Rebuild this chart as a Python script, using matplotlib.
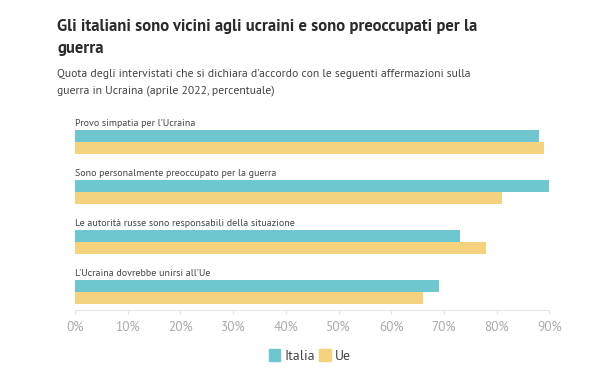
#!/usr/bin/env python3
"""Gli italiani e la guerra in Ucraina - barre orizzontali."""
import matplotlib.pyplot as plt
import matplotlib.patches as mpatches
import numpy as np

categorie = [
    "Provo simpatia per l'Ucraina",
    "Sono personalmente preoccupato per la guerra",
    "Le autorità russe sono responsabili della situazione",
    "L'Ucraina dovrebbe unirsi all'Ue",
]
italia = [88, 90, 73, 69]
ue = [89, 81, 78, 66]
ticks = [0, 10, 20, 30, 40, 50, 60, 70, 80, 90]

TEAL = "#6EC6CE"
GOLD = "#F5D27E"
TEXT = "#2B2B2B"
SUB = "#444444"
MUTED = "#AAAAAA"

plt.rcParams.update({"font.family": ["PT Sans", "Roboto", "DejaVu Sans"]})

W, H = 604, 375
fig = plt.figure(figsize=(W / 100, H / 100), dpi=100)
fig.patch.set_facecolor("white")
renderer = fig.canvas.get_renderer()


def fit(txt, width_px):
    # scale the font so the line has the same width as in the reference
    w = txt.get_window_extent(renderer).width
    txt.set_fontsize(txt.get_fontsize() * width_px / w)
    return txt.get_fontsize()


t1 = fig.text(57 / W, 1 - 27 / H, "Gli italiani sono vicini agli ucraini e sono preoccupati per la",
              fontsize=14, fontweight="bold", color=TEXT, va="center")
size = fit(t1, 420)
fig.text(57 / W, 1 - 48 / H, "guerra", fontsize=size, fontweight="bold", color=TEXT, va="center")
s1 = fig.text(57 / W, 1 - 74 / H,
              "Quota degli intervistati che si dichiara d'accordo con le seguenti affermazioni sulla",
              fontsize=10.5, color=SUB, va="center")
size = fit(s1, 415)
fig.text(57 / W, 1 - 91 / H, "guerra in Ucraina (aprile 2022, percentuale)",
         fontsize=size, color=SUB, va="center")

ax = fig.add_axes([75 / W, 1 - 310 / H, (549.3 - 75) / W, (310 - 115) / H])
y = np.arange(len(categorie))
h = 0.245
ax.barh(y - h / 2, italia, height=h, color=TEAL, label="Italia")
ax.barh(y + h / 2, ue, height=h, color=GOLD, label="Ue")
labels = [ax.text(0, i - 0.37, lab, fontsize=8, color=SUB, va="center", ha="left")
          for i, lab in enumerate(categorie)]
size = fit(labels[0], 121)
for t in labels[1:]:
    t.set_fontsize(size)

ax.set_xlim(0, 90)
ax.set_ylim(3.367, -0.548)
ax.set_xticks(ticks)
ax.set_xticklabels([f"{t}%" for t in ticks])
ax.set_yticks([])
for s in ("top", "right", "left"):
    ax.spines[s].set_visible(False)
ax.spines["bottom"].set_color("#E6E6E6")
ax.tick_params(axis="x", colors="#E6E6E6", labelcolor=MUTED, labelsize=9.5, length=3, pad=5)

handles = [mpatches.Patch(color=TEAL, label="Italia"), mpatches.Patch(color=GOLD, label="Ue")]
leg = fig.legend(handles=handles, loc="center", bbox_to_anchor=(310 / W, 1 - 356 / H), ncol=2,
                 frameon=False, fontsize=10, handlelength=0.8, handleheight=1.0,
                 handletextpad=0.3, columnspacing=0.3)
for t in leg.get_texts():
    t.set_color(SUB)

fig.savefig("out.png", dpi=100, facecolor="white")
